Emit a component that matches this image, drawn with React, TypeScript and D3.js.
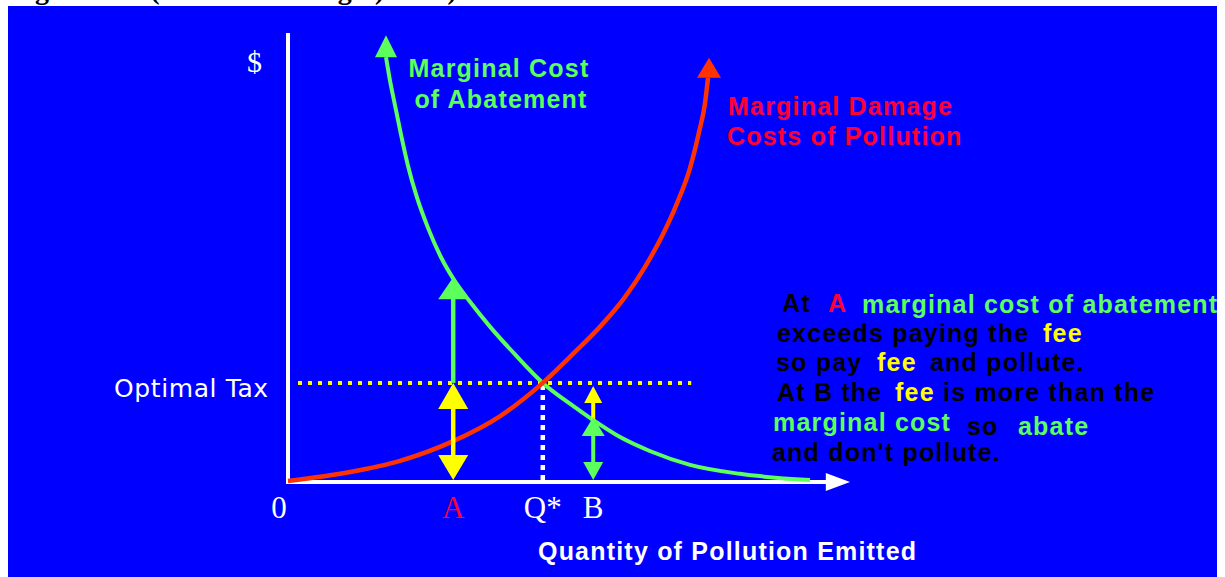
import React from "react";
import * as d3 from "d3";

const W = 1225;
const H = 577;

// Marginal cost of abatement (green), quantity vs $
const abatementQ = [17.5, 18.2, 19.1, 20.2, 21.4, 23.0, 25.0, 27.3, 29.8, 32.5, 36.1, 40.5, 45.5, 50.4, 54.5, 59.3, 64.6, 71.8, 80.7, 93.2];
const abatementCost = [94.6, 89.5, 83.9, 77.2, 70.5, 63.4, 56.5, 50.0, 44.6, 40.0, 34.4, 28.3, 21.9, 17.2, 13.6, 9.8, 6.7, 3.6, 1.6, 0.2];

// Marginal damage costs of pollution (red)
const damageQ = [0, 11.1, 20.0, 29.5, 37.9, 45.5, 51.25, 55.7, 60.2, 63.75, 66.8, 69.5, 71.8, 73.4, 74.5, 75.0];
const damageCost = [0, 2.0, 4.5, 8.9, 14.5, 21.9, 28.8, 34.4, 41.1, 47.8, 54.7, 62.1, 69.9, 77.9, 84.6, 90.0];

const optimalTax = 21.9;
const qStar = 45.5;
const qA = 29.5;
const qB = 54.5;
const mcAtA = 45.5;
const mcAtB = 13.6;

const xTickLabels = ["0", "A", "Q*", "B"];
const xTickValues = [0, qA, qStar, qB];
const xTickColors = ["#ffffff", "#ff0033", "#ffffff", "#ffffff"];

const BLUE = "#0000ff";
const GREEN = "#5cff5c";
const RED_LINE = "#ff3300";
const RED_TEXT = "#ff0033";
const YELLOW = "#ffff00";

const SANS = "'Liberation Sans', Arial, sans-serif";
const SERIF = "'Liberation Serif', 'Times New Roman', serif";

function upHead(cx: number, tipY: number, len: number, half: number) {
  return `${cx},${tipY} ${cx - half},${tipY + len} ${cx + half},${tipY + len}`;
}
function downHead(cx: number, tipY: number, len: number, half: number) {
  return `${cx},${tipY} ${cx - half},${tipY - len} ${cx + half},${tipY - len}`;
}

export default function App() {
  const x = d3.scaleLinear().domain([0, 100]).range([288, 848]);
  const y = d3.scaleLinear().domain([0, 100]).range([481, 33]);

  const line = d3
    .line<[number, number]>()
    .x((d) => x(d[0]))
    .y((d) => y(d[1]))
    .curve(d3.curveMonotoneX);

  const green: [number, number][] = abatementQ.map((q, i) => [q, abatementCost[i]]);
  const red: [number, number][] = damageQ.map((q, i) => [q, damageCost[i]]);

  const gTop = green[0];
  const rTop = red[red.length - 1];

  const ax = x(qA);
  const bx = x(qB);
  const taxY = y(optimalTax);
  const zeroY = y(0);

  const bold = { fontFamily: SANS, fontWeight: 700, fontSize: 25, letterSpacing: 1.2 } as const;

  return (
    <div style={{ position: "absolute", left: 0, top: 0 }}>
      <svg width={W} height={H} style={{ display: "block" }}>
        <defs>
          <clipPath id="panel">
            <rect x={8} y={6} width={1209} height={H} />
          </clipPath>
        </defs>
        <rect x={0} y={0} width={W} height={H} fill="#ffffff" />
        <text x={10} y={-1} fontFamily={SERIF} fontWeight={700} fontSize={28} fill="#000">
          Figure 11.2 (Emission Charges) 2006)
        </text>
        <rect x={8} y={6} width={1209} height={H} fill={BLUE} />

        <g clipPath="url(#panel)">
          {/* axes */}
          <line x1={x(0)} x2={x(0)} y1={y(100)} y2={zeroY + 3} stroke="#fff" strokeWidth={4} />
          <line x1={x(0) - 2} x2={x(96.4)} y1={zeroY + 1} y2={zeroY + 1} stroke="#fff" strokeWidth={4} />
          <polygon
            points={`${x(100) + 2},${zeroY + 1} ${x(96.4) - 2},${zeroY - 8} ${x(96.4) - 2},${zeroY + 10}`}
            fill="#fff"
          />

          {/* optimal tax dotted line */}
          <line
            x1={x(0) + 10}
            x2={x(72)}
            y1={taxY}
            y2={taxY}
            stroke={YELLOW}
            strokeWidth={4}
            strokeDasharray="4 6"
          />
          {/* Q* dotted drop line */}
          <line
            x1={x(qStar)}
            x2={x(qStar)}
            y1={taxY + 2}
            y2={zeroY}
            stroke="#fff"
            strokeWidth={4.5}
            strokeDasharray="5 5"
          />

          {/* curves */}
          <path d={line(green) || ""} fill="none" stroke={GREEN} strokeWidth={4} />
          <polygon points={upHead(x(gTop[0]), y(gTop[1]) - 22, 22, 11)} fill={GREEN} />
          <path d={line(red) || ""} fill="none" stroke={RED_LINE} strokeWidth={4.5} />
          <polygon points={upHead(x(rTop[0]) + 1, y(rTop[1]) - 20, 20, 12)} fill={RED_LINE} />

          {/* arrows at A */}
          <line x1={ax} x2={ax} y1={taxY} y2={y(mcAtA) + 20} stroke={GREEN} strokeWidth={4.5} />
          <polygon points={upHead(ax, y(mcAtA), 22, 15)} fill={GREEN} />
          <line x1={ax} x2={ax} y1={taxY + 20} y2={zeroY - 20} stroke={YELLOW} strokeWidth={4.5} />
          <polygon points={upHead(ax, taxY, 26, 15)} fill={YELLOW} />
          <polygon points={downHead(ax, zeroY - 1, 25, 15)} fill={YELLOW} />

          {/* arrows at B */}
          <line x1={bx} x2={bx} y1={taxY + 12} y2={y(mcAtB)} stroke={YELLOW} strokeWidth={4} />
          <polygon points={upHead(bx, taxY + 3, 17, 9)} fill={YELLOW} />
          <line x1={bx} x2={bx} y1={y(mcAtB) + 15} y2={zeroY - 15} stroke={GREEN} strokeWidth={4} />
          <polygon points={upHead(bx, y(mcAtB) - 3, 19, 11.5)} fill={GREEN} />
          <polygon points={downHead(bx, zeroY - 1, 18, 10)} fill={GREEN} />

          {/* axis labels */}
          <text x={x(0) - 41} y={72} fontFamily={SERIF} fontSize={30} fill="#fff">
            $
          </text>
          {xTickLabels.map((t, i) => (
            <text
              key={t}
              x={x(xTickValues[i]) + (i === 0 ? -9 : 0)}
              y={518}
              textAnchor="middle"
              fontFamily={SERIF}
              fontSize={31}
              fill={xTickColors[i]}
            >
              {t}
            </text>
          ))}
          <text x={538} y={560} {...bold} fill="#fff">
            Quantity of Pollution Emitted
          </text>
          <text
            x={114}
            y={397}
            fontFamily="'DejaVu Sans', sans-serif"
            fontSize={25}
            letterSpacing={0.6}
            fill="#fff"
          >
            Optimal Tax
          </text>

          {/* curve labels */}
          <text {...bold} fill={GREEN} textAnchor="middle">
            <tspan x={499} y={77}>Marginal Cost</tspan>
            <tspan x={501} y={108}>of Abatement</tspan>
          </text>
          <text {...bold} fill={RED_TEXT}>
            <tspan x={728} y={115}>Marginal Damage</tspan>
            <tspan x={727} y={145}>Costs of Pollution</tspan>
          </text>

          {/* explanation */}
          <g {...bold}>
            <text x={782} y={312} fill="#000">At</text>
            <text x={828} y={312} fill={RED_TEXT}>A</text>
            <text x={862} y={313} fill={GREEN}>marginal cost of abatement</text>

            <text x={777} y={342} fill="#000">exceeds paying the</text>
            <text x={1043} y={342} fill={YELLOW}>fee</text>

            <text x={776} y={371} fill="#000">so pay</text>
            <text x={877} y={371} fill={YELLOW}>fee</text>
            <text x={930} y={371} fill="#000">and pollute.</text>

            <text x={777} y={401} fill="#000">At B the</text>
            <text x={895} y={401} fill={YELLOW}>fee</text>
            <text x={943} y={401} fill="#000">is more than the</text>

            <text x={773} y={431} fill={GREEN}>marginal cost</text>
            <text x={967} y={435} fill="#000">so</text>
            <text x={1018} y={435} fill={GREEN}>abate</text>

            <text x={772} y={461} fill="#000">and don't pollute.</text>
          </g>
        </g>
      </svg>
    </div>
  );
}
